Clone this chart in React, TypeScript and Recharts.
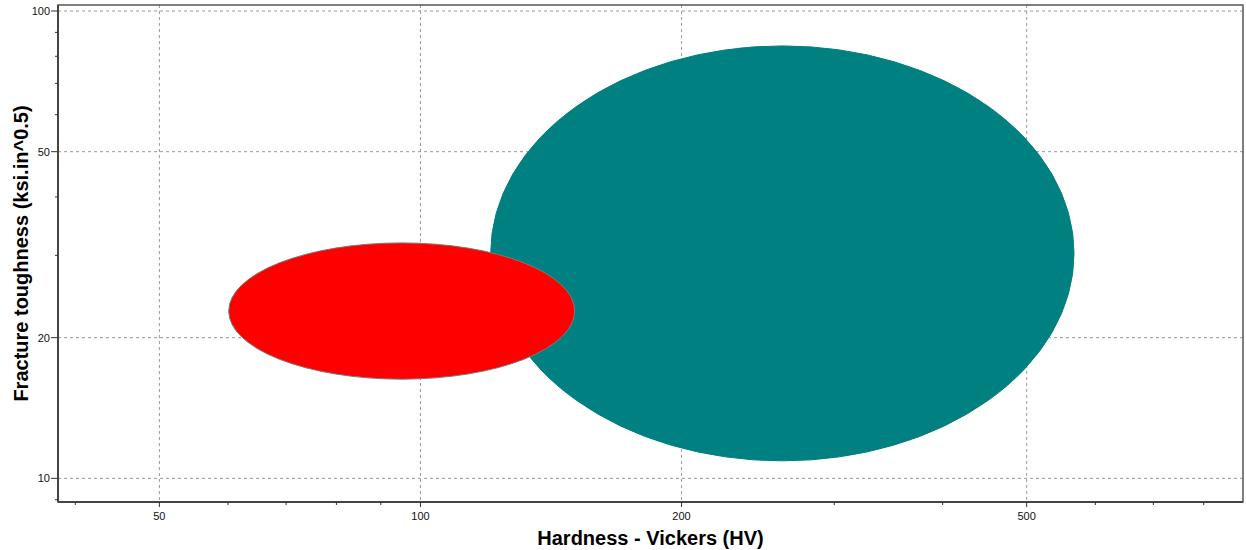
import React from "react";
import {
  ComposedChart,
  XAxis,
  YAxis,
  CartesianGrid,
  ReferenceArea,
  Label,
} from "recharts";

// property ranges (hardness in HV, toughness in ksi.in^0.5)
const rangeNames = ["Range A", "Range B"];
const rangeColors = ["#008080", "#ff0000"];
const hardnessLow = [120.5, 60.1];
const hardnessHigh = [567, 150.6];
const toughnessLow = [10.9, 16.3];
const toughnessHigh = [84.2, 31.9];

const xDomain = [38.2, 888];
const yDomain = [8.9, 103];
const xMajorTicks = [50, 100, 200, 500];
const xMinorTicks = [40, 60, 70, 80, 90, 300, 400, 600, 700, 800];
const yMajorTicks = [10, 20, 50, 100];
const yMinorTicks = [9, 30, 40, 60, 70, 80, 90];

const font = "'Liberation Sans', Arial, sans-serif";

const XTick = (props: any) => {
  const { x, y, payload } = props;
  const major = xMajorTicks.includes(payload.value);
  return (
    <g>
      <line x1={x} x2={x} y1={y} y2={y + (major ? 5 : 3)} stroke="#333" />
      {major && (
        <text x={x} y={y + 18} textAnchor="middle" fontSize={11} fontFamily={font} fill="#111">
          {payload.value}
        </text>
      )}
    </g>
  );
};

const YTick = (props: any) => {
  const { x, y, payload } = props;
  const major = yMajorTicks.includes(payload.value);
  return (
    <g>
      <line x1={x - (major ? 7 : 3)} x2={x} y1={y} y2={y} stroke="#333" />
      {major && (
        <text x={x - 8} y={y + 4} textAnchor="end" fontSize={11} fontFamily={font} fill="#111">
          {payload.value}
        </text>
      )}
    </g>
  );
};

const EllipseShape = (color: string) => (props: any) => {
  const { x, y, width, height } = props;
  return (
    <ellipse
      cx={x + width / 2}
      cy={y + height / 2}
      rx={Math.abs(width) / 2}
      ry={Math.abs(height) / 2}
      fill={color}
      stroke={color === "#ff0000" ? "#7a7a7a" : color}
      strokeWidth={1}
    />
  );
};

const App: React.FC = () => {
  return (
    <div style={{ position: "absolute", left: 0, top: 0, background: "#fff" }}>
      <ComposedChart
        width={1246}
        height={550}
        margin={{ top: 5, right: 3, bottom: 0, left: 0 }}
      >
        <CartesianGrid
          stroke="#999"
          strokeDasharray="3 3"
          verticalValues={xMajorTicks}
          horizontalValues={yMajorTicks}
        />
        <XAxis
          type="number"
          dataKey="x"
          scale="log"
          domain={xDomain}
          allowDataOverflow
          ticks={[...xMajorTicks, ...xMinorTicks]}
          tick={<XTick />}
          tickLine={false}
          tickSize={0}
          tickMargin={0}
          interval={0}
          height={48}
          axisLine={{ stroke: "#444", strokeWidth: 2 }}
        >
          <Label
            content={(p: any) => (
              <text
                x={p.viewBox.x + p.viewBox.width / 2}
                y={p.viewBox.y + 43}
                textAnchor="middle"
                fontSize={20}
                fontWeight="bold"
                fontFamily={font}
                fill="#000"
              >
                Hardness - Vickers (HV)
              </text>
            )}
          />
        </XAxis>
        <YAxis
          type="number"
          dataKey="y"
          scale="log"
          domain={yDomain}
          allowDataOverflow
          ticks={[...yMajorTicks, ...yMinorTicks]}
          tick={<YTick />}
          tickLine={false}
          tickSize={0}
          tickMargin={0}
          interval={0}
          width={58}
          axisLine={{ stroke: "#444", strokeWidth: 2 }}
        >
          <Label
            content={(p: any) => {
              const cx = p.viewBox.x + 28;
              const cy = p.viewBox.y + p.viewBox.height / 2;
              return (
                <text
                  x={cx}
                  y={cy}
                  transform={`rotate(-90 ${cx} ${cy})`}
                  textAnchor="middle"
                  fontSize={20}
                  fontWeight="bold"
                  fontFamily={font}
                  fill="#000"
                >
                  Fracture toughness (ksi.in^0.5)
                </text>
              );
            }}
          />
        </YAxis>
        {rangeNames.map((name, i) => (
          <ReferenceArea
            key={name}
            x1={hardnessLow[i]}
            x2={hardnessHigh[i]}
            y1={toughnessLow[i]}
            y2={toughnessHigh[i]}
            shape={EllipseShape(rangeColors[i])}
          />
        ))}
        <ReferenceArea
          x1={xDomain[0]}
          x2={xDomain[1]}
          y1={yDomain[0]}
          y2={yDomain[1]}
          ifOverflow="visible"
          fill="none"
          fillOpacity={0}
          stroke="#555"
          strokeWidth={1.5}
        />
      </ComposedChart>
    </div>
  );
};

export default App;
